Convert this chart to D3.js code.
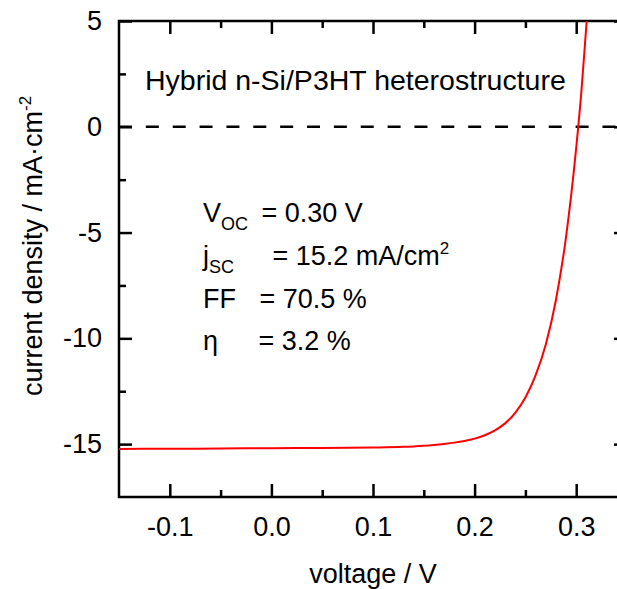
<!DOCTYPE html>
<meta charset="utf-8">
<head>
    <style>
        body { margin: 0; background: #fff; }
        svg text { font-family: "Liberation Sans", Arial, sans-serif; fill: #000; }
        .tick line { stroke: #000; stroke-width: 2.5; }
    </style>
</head>
<body>
<div id="chart"></div>
<script src="https://cdn.jsdelivr.net/npm/d3@7"></script>
<script>
    // J-V curve
    const voltage = [-0.15, -0.1, -0.05, 0, 0.05, 0.1, 0.13, 0.14, 0.15, 0.16, 0.17, 0.18, 0.19, 0.2, 0.21, 0.22,
        0.23, 0.24, 0.25, 0.26, 0.27, 0.28, 0.29, 0.3, 0.305, 0.31, 0.315];
    const current = [-15.23, -15.22, -15.21, -15.19, -15.18, -15.16, -15.13, -15.11, -15.08, -15.04, -14.99, -14.93, -14.85, -14.74, -14.58, -14.35,
        -14.02, -13.52, -12.8, -11.75, -10.3, -8.2, -5.2, -1.0, 1.6, 4.8, 7.9];

    const xMajor = [-0.1, 0.0, 0.1, 0.2, 0.3];
    const xMinor = [-0.05, 0.05, 0.15, 0.25];
    const yMajor = [5, 0, -5, -10, -15];
    const yMinor = [2.5, -2.5, -7.5, -12.5];

    const W = 617, H = 589;
    const margin = {left: 119, top: 21, right: 627, bottom: 497};

    const svg = d3.select("#chart").append("svg")
        .attr("width", W)
        .attr("height", H);

    const x = d3.scaleLinear().domain([-0.15, 0.35]).range([margin.left, margin.right]);
    const y = d3.scaleLinear().domain([-17.5, 5]).range([margin.bottom, margin.top]);

    svg.append("clipPath").attr("id", "plot")
        .append("rect")
        .attr("x", margin.left).attr("y", margin.top)
        .attr("width", margin.right - margin.left).attr("height", margin.bottom - margin.top);

    // zero line
    svg.append("line")
        .attr("x1", margin.left).attr("x2", margin.right)
        .attr("y1", y(0)).attr("y2", y(0))
        .attr("stroke", "#000")
        .attr("stroke-width", 2.5)
        .attr("stroke-dasharray", "13,13.86");

    // axes (ticks point inward)
    function axis(gen, tx, ty, vals, size, fmt, pad) {
        const g = svg.append("g")
            .attr("transform", `translate(${tx},${ty})`)
            .call(gen.tickValues(vals).tickSize(size).tickSizeOuter(0)
                .tickPadding(pad || 0).tickFormat(fmt || ""));
        g.select(".domain").remove();
        g.selectAll("text").style("font-size", "27px");
        return g;
    }
    axis(d3.axisBottom(x), 0, margin.bottom, xMajor, -13, d => d.toFixed(1), 20);
    axis(d3.axisBottom(x), 0, margin.bottom, xMinor, -7);
    axis(d3.axisTop(x), 0, margin.top, xMajor, -13);
    axis(d3.axisTop(x), 0, margin.top, xMinor, -7);
    axis(d3.axisLeft(y), margin.left, 0, yMajor, -13, d => String(d), 17);
    axis(d3.axisLeft(y), margin.left, 0, yMinor, -7);
    axis(d3.axisRight(y), margin.right, 0, yMajor, -13);
    axis(d3.axisRight(y), margin.right, 0, yMinor, -7);

    // frame
    svg.append("rect")
        .attr("x", margin.left).attr("y", margin.top)
        .attr("width", margin.right - margin.left).attr("height", margin.bottom - margin.top)
        .attr("fill", "none")
        .attr("stroke", "#000")
        .attr("stroke-width", 2.5);

    // curve
    const pts = voltage.map((v, i) => [v, current[i]]);
    svg.append("path")
        .datum(pts)
        .attr("clip-path", "url(#plot)")
        .attr("fill", "none")
        .attr("stroke", "#ff0000")
        .attr("stroke-width", 2)
        .attr("d", d3.line()
            .x(d => x(d[0]))
            .y(d => y(d[1]))
            .curve(d3.curveMonotoneX));

    // axis titles
    svg.append("text")
        .attr("x", (margin.left + margin.right) / 2)
        .attr("y", 583)
        .attr("text-anchor", "middle")
        .style("font-size", "27px")
        .text("voltage / V");

    const yt = svg.append("text")
        .attr("transform", "translate(42,396) rotate(-90)")
        .attr("text-anchor", "start")
        .style("font-size", "27px");
    yt.append("tspan").text("current density / mA\u00b7cm");
    yt.append("tspan").attr("dy", -11).style("font-size", "17px").text("-2");

    // annotations
    svg.append("text")
        .attr("x", 145).attr("y", 90)
        .style("font-size", "28.5px")
        .text("Hybrid n-Si/P3HT heterostructure");

    const statsX = 203;
    const lines = [
        {main: "V", sub: "OC", eqX: 261.5, rest: "= 0.30 V", y: 222},
        {main: "j", sub: "SC", eqX: 272.5, rest: "= 15.2 mA/cm", sup: "2", y: 265},
        {main: "FF", eqX: 259.5, rest: "= 70.5 %", y: 308},
        {main: "\u03b7", eqX: 258.5, rest: "= 3.2 %", y: 350}
    ];
    lines.forEach(l => {
        const t = svg.append("text")
            .attr("x", statsX).attr("y", l.y)
            .style("font-size", "27px");
        t.append("tspan").text(l.main);
        if (l.sub) t.append("tspan").attr("dy", 8).style("font-size", "18px").text(l.sub);
        t.append("tspan").attr("x", l.eqX).attr("y", l.y).text(l.rest);
        if (l.sup) t.append("tspan").attr("dy", -11).style("font-size", "17px").text(l.sup);
    });
</script>
</body>
